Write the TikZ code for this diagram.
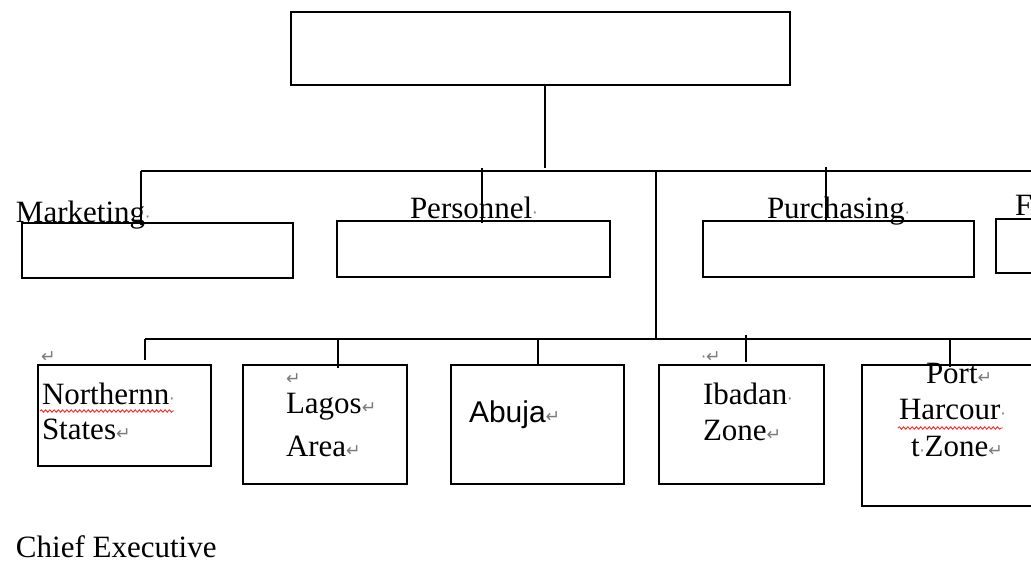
\documentclass[tikz,border=0pt]{standalone}
\usepackage{fontspec}
\setmainfont{Liberation Serif}
\newfontfamily\labelsans{Liberation Sans}
\newfontfamily\markfont{DejaVu Sans}
\usetikzlibrary{fit,decorations.pathmorphing}
\definecolor{markgray}{HTML}{7A7A7A}
\definecolor{squiggle}{HTML}{FF2A2A}
% editing marks: paragraph return and space dot
\newcommand\paramark{{\markfont\fontsize{13}{13}\selectfont\color{markgray}↵}}
\newcommand\spacemark{{\markfont\fontsize{12}{12}\selectfont\color{markgray}·}}
\begin{document}
\begin{tikzpicture}[x=0.75pt,y=-0.75pt,line width=1.5pt,
  box/.style={draw,inner sep=0pt},
  lbl/.style={anchor=base west,inner sep=0pt,font=\fontsize{23.25}{28}\selectfont},
  sanslbl/.style={lbl,font=\labelsans\fontsize{22.5}{27}\selectfont},
  link/.style={line width=1.5pt},
  wavy/.style={draw=squiggle,line width=0.7pt,decorate,
    decoration={snake,amplitude=0.9pt,segment length=3.2pt}}]
\useasboundingbox (0,0) rectangle (1031,563);
\clip (0,0) rectangle (1031,563);

% boxes
\node[box,fit={(291,12) (790,85)}] (ceo) {};
\node[box,fit={(22,223) (293,278)}] (mkt) {};
\node[box,fit={(337,221) (610,277)}] (per) {};
\node[box,fit={(703,221) (974,277)}] (pur) {};
\node[box,fit={(996,219) (1060,273)}] (fin) {};
\node[box,fit={(38,365) (211,466)}] (north) {};
\node[box,fit={(243,365) (407,484)}] (lagos) {};
\node[box,fit={(451,365) (624,484)}] (abuja) {};
\node[box,fit={(659,365) (824,484)}] (ibadan) {};
\node[box,fit={(862,365) (1080,506)}] (port) {};

% connector points
\coordinate (ceoend) at (545,168);
\coordinate (busL) at (141,171);
\coordinate (busR) at (1040,171);
\coordinate (mktend) at (141,225);
\coordinate (pertop) at (482,168);
\coordinate (perend) at (482,223);
\coordinate (purtop) at (826,167);
\coordinate (purend) at (826,221);
\coordinate (trunktop) at (656,171);
\coordinate (trunkbot) at (656,339);
\coordinate (lowL) at (145,339);
\coordinate (lowR) at (1040,339);
\coordinate (northend) at (145,360);
\coordinate (lagostop) at (338,339);
\coordinate (lagosend) at (338,368);
\coordinate (abujatop) at (538,339);
\coordinate (ibadantop) at (746,335);
\coordinate (ibadanend) at (746,362);
\coordinate (porttop) at (950,339);
\coordinate (portend) at (950,367);

% connectors
\draw[link] (ceoend |- ceo.south) -- (ceoend);
\draw[link] (busL) -- (busR);
\draw[link] (busL) -- (mktend);
\draw[link] (pertop) -- (perend);
\draw[link] (purtop) -- (purend);
\draw[link] (trunktop) -- (trunkbot);
\draw[link] (lowL) -- (lowR);
\draw[link] (lowL) -- (northend);
\draw[link] (lagostop) -- (lagosend);
\draw[link] (abujatop) -- (abujatop |- abuja.north);
\draw[link] (ibadantop) -- (ibadanend);
\draw[link] (porttop) -- (portend);

% department labels
\node[lbl] (tmkt) at (15,222) {Marketing\spacemark};
\node[lbl] (tper) at (409,218) {Personnel\spacemark};
\node[lbl] (tpur) at (766,218) {Purchasing\spacemark};
\node[lbl] (tfin) at (1014,215) {F};

% area labels
\node[lbl] (nmark) at (40,362) {\paramark};
\node[lbl] (n1) at (41,404) {Northernn\spacemark};
\node[lbl] (n2) at (41,439) {States\paramark};
\draw[wavy] (40,411) -- (174,411);

\node[lbl] (lmark) at (285,384) {\paramark};
\node[lbl] (l1) at (285,413) {Lagos\paramark};
\node[lbl] (l2) at (285,456) {Area\paramark};

\node[sanslbl] (a1) at (468,422) {Abuja\paramark};

\node[lbl] (imark) at (700,362) {\spacemark\paramark};
\node[lbl] (i1) at (702,404) {Ibadan\spacemark};
\node[lbl] (i2) at (702,440) {Zone\paramark};

\node[lbl] (p1) at (925,383) {Port\paramark};
\node[lbl] (p2) at (898,419) {Harcour\spacemark};
\node[lbl] (p3) at (910,456) {t\spacemark Zone\paramark};
\draw[wavy] (898,428) -- (1003,428);

% caption line
\node[lbl] (cap) at (15,557) {Chief Executive};
\end{tikzpicture}
\end{document}
